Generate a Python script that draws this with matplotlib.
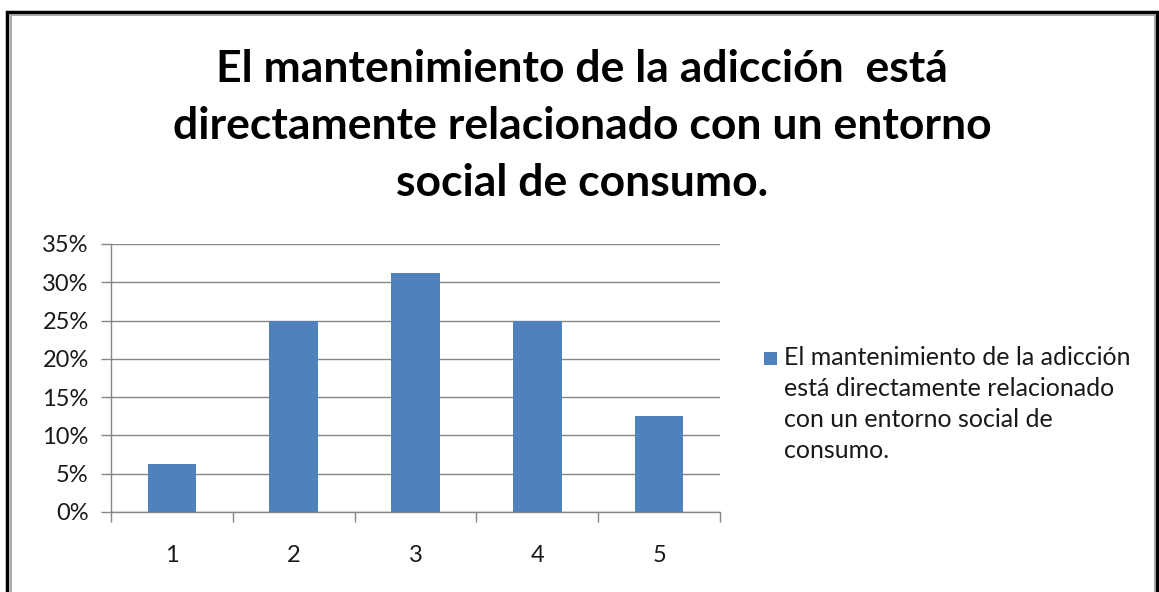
import matplotlib.pyplot as plt
from matplotlib.patches import Rectangle
from matplotlib.legend_handler import HandlerPatch
from matplotlib.ticker import PercentFormatter
import numpy as np

plt.rcParams['font.family'] = ['Lato', 'DejaVu Sans']

# Datos
categorias = ['1', '2', '3', '4', '5']
porcentajes = [6.25, 25.0, 31.25, 25.0, 12.5]
titulo = ('El mantenimiento de la adicción  está\n'
          'directamente relacionado con un entorno\n'
          'social de consumo.')
etiqueta_serie = ('El mantenimiento de la adicción\n'
                  'está directamente relacionado\n'
                  'con un entorno social de\n'
                  'consumo.')

color_barra = '#4F81BD'
color_eje = '#868686'
color_texto = '#1a1a1a'


def cuadro_arriba(legend, orig_handle, xdescent, ydescent, width, height, fontsize):
    # el texto de 4 líneas queda centrado en y=0: subir el cuadrado a la primera línea
    s = 0.52 * fontsize
    y0 = 34.6
    return Rectangle((-xdescent, y0), s, s)


fig = plt.figure(figsize=(11.59, 5.92), dpi=100)

# Marco del gráfico
fig.patches.append(Rectangle((7 / 1159, -0.1), 1150 / 1159, 1.1 - 12 / 592,
                             transform=fig.transFigure, fill=False,
                             edgecolor='black', linewidth=2.5))
fig.patches.append(Rectangle((10.5 / 1159, -0.1), 1144 / 1159, 1.1 - 15 / 592,
                             transform=fig.transFigure, fill=False,
                             edgecolor='#9a9a9a', linewidth=1.2))

fig.text(0.502, 1 - 126 / 592, titulo, ha='center', va='center', fontsize=32,
         fontweight='bold', linespacing=1.5, color='black')

ax = fig.add_axes([111 / 1159, 1 - 512 / 592, 609 / 1159, 268 / 592])
x = np.arange(len(categorias))
barras = ax.bar(x, porcentajes, width=0.4, color=color_barra, label=etiqueta_serie,
                zorder=3)

ax.set_xlim(-0.5, len(categorias) - 0.5)
ax.set_ylim(0, 35)
ax.set_yticks(np.arange(0, 36, 5))
ax.yaxis.set_major_formatter(PercentFormatter(decimals=0))
ax.set_xticks(x)
ax.set_xticklabels(categorias)
ax.set_xticks(np.arange(-0.5, len(categorias)), minor=True)

ax.grid(axis='y', color=color_eje, linewidth=1, zorder=0)
ax.tick_params(axis='y', length=7, color=color_eje, width=1, pad=9,
               labelsize=17, labelcolor=color_texto)
ax.tick_params(axis='x', which='major', length=0, pad=24, labelsize=17,
               labelcolor=color_texto)
ax.tick_params(axis='x', which='minor', length=7, color=color_eje, width=1)

for lado in ['top', 'right']:
    ax.spines[lado].set_visible(False)
for lado in ['left', 'bottom']:
    ax.spines[lado].set_color(color_eje)
    ax.spines[lado].set_linewidth(1)

manejador = HandlerPatch(patch_func=cuadro_arriba,
                         update_func=lambda h, o: h.update_from(o.patches[0]))
leg = ax.legend(loc='upper left', bbox_to_anchor=(764 / 1159, 1 - 346 / 592),
                bbox_transform=fig.transFigure, frameon=False, fontsize=18,
                handlelength=0.52, handleheight=0.7, handletextpad=0.3,
                borderaxespad=0, borderpad=0,
                handler_map={barras: manejador})
for t in leg.get_texts():
    t.set_linespacing(1.42)
    t.set_color(color_texto)

fig.savefig('out.png', dpi=100)
